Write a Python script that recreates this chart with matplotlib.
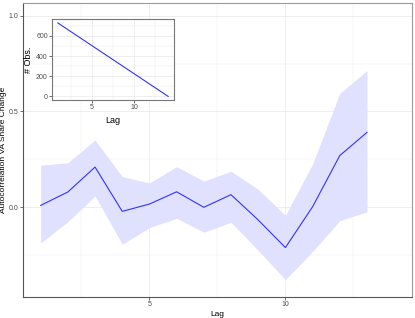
import numpy as np
import matplotlib.pyplot as plt
from matplotlib.ticker import MultipleLocator

###############################################################################
lags = [1, 2, 3, 4, 5, 6, 7, 8, 9, 10, 11, 12, 13]
acf = [0.01, 0.08, 0.21, -0.021, 0.017, 0.081, 0.0, 0.066, -0.066, -0.21, 0.003, 0.27, 0.391]
upper = [0.22, 0.233, 0.351, 0.16, 0.127, 0.212, 0.137, 0.188, 0.094, -0.042, 0.226, 0.595, 0.713]
lower = [-0.186, -0.075, 0.059, -0.193, -0.106, -0.057, -0.13, -0.078, -0.225, -0.378, -0.23, -0.07, -0.023]

obs_lags = [1, 2, 3, 4, 5, 6, 7, 8, 9, 10, 11, 12, 13, 14]
n_obs = [728, 672, 616, 560, 504, 448, 392, 336, 280, 224, 168, 112, 56, 0]

line_color = '#3333ff'
band_color = '#e0e0ff'
grid_color = '#ebebeb'
tick_color = '#4d4d4d'
###############################################################################

plt.rcParams['font.family'] = ['Liberation Sans', 'DejaVu Sans']


def style_axes(ax, lab_size):
    for side in ['top', 'right']:
        ax.spines[side].set_color('#999999')
    for side in ['left', 'bottom']:
        ax.spines[side].set_color('#555555')
    for s in ax.spines.values():
        s.set_linewidth(0.8)
    ax.grid(which='major', color=grid_color, linewidth=0.6)
    ax.grid(which='minor', color=grid_color, linewidth=0.35)
    ax.set_axisbelow(True)
    ax.tick_params(axis='both', which='major', labelsize=lab_size, length=2,
                   width=0.6, color='#555555', labelcolor=tick_color, pad=1.2)
    ax.tick_params(axis='both', which='minor', length=0)


fig = plt.figure(figsize=(4.15, 3.18), dpi=100)

# main panel
ax = fig.add_axes([0.0554, 0.066, 0.937, 0.9245])
ax.fill_between(lags, lower, upper, color=band_color, linewidth=0)
ax.plot(lags, acf, color=line_color, linewidth=0.8)
ax.set_xlim(0.35, 14.65)
ax.set_ylim(-0.468, 1.066)
ax.set_xticks([5, 10])
ax.set_yticks([0.0, 0.5, 1.0])
ax.set_yticklabels(['0.0', '0.5', '1.0'])
ax.xaxis.set_minor_locator(MultipleLocator(2.5))
ax.yaxis.set_minor_locator(MultipleLocator(0.25))
style_axes(ax, 5)
ax.set_xlabel('Lag', fontsize=6)
ax.set_ylabel('Autocorrelation VA Share Change', fontsize=6)
ax.xaxis.set_label_coords(0.5, -0.047)
ax.yaxis.set_label_coords(-0.041, 0.5)

# inset with number of observations
ins = fig.add_axes([0.126, 0.6855, 0.2925, 0.2538])
ins.set_facecolor('white')
ins.plot(obs_lags, n_obs, color=line_color, linewidth=0.8)
ins.set_xlim(0.35, 14.65)
ins.set_ylim(-36, 764)
ins.set_xticks([5, 10])
ins.set_yticks([0, 200, 400, 600])
ins.xaxis.set_minor_locator(MultipleLocator(2.5))
ins.yaxis.set_minor_locator(MultipleLocator(100))
style_axes(ins, 5)
for s in ins.spines.values():
    s.set_color('#777777')
ins.set_xlabel('Lag', fontsize=6.5)
ins.set_ylabel('# Obs.', fontsize=6.5)
ins.xaxis.set_label_coords(0.5, -0.2)
ins.yaxis.set_label_coords(-0.16, 0.5)

plt.savefig('out.png', dpi=100)
plt.close()
